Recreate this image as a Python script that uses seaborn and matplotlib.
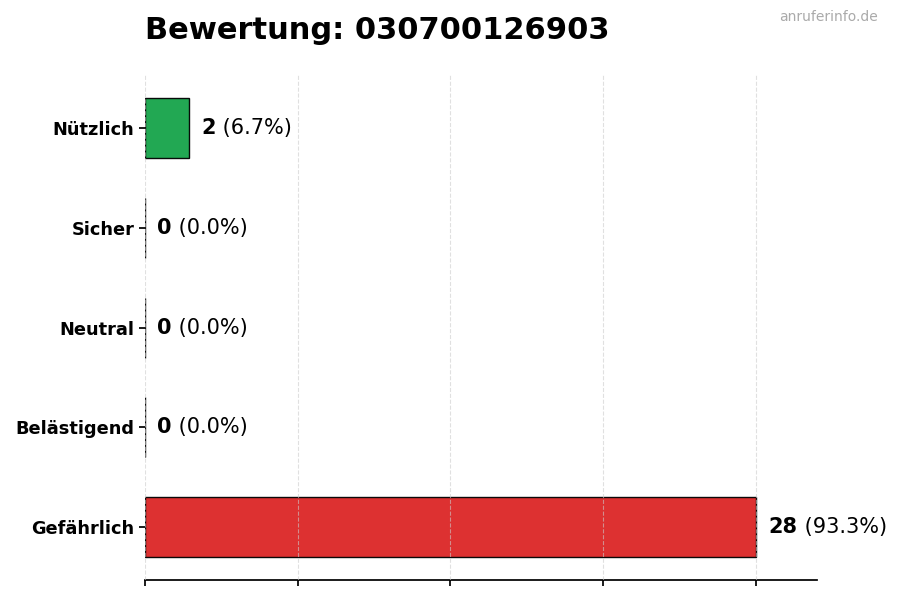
import matplotlib
matplotlib.use("Agg")
import matplotlib.pyplot as plt
import seaborn as sns
import pandas as pd

categories = ["Nützlich", "Sicher", "Neutral", "Belästigend", "Gefährlich"]
counts = [2, 0, 0, 0, 28]
colors = ["#16a34a", "#2563eb", "#9ca3af", "#f59e0b", "#dc2626"]
phone = "030700126903"

total = sum(counts)
df = pd.DataFrame({"cat": categories, "n": counts})

sns.set_theme(style="white")
plt.rcParams["font.family"] = ["DejaVu Sans"]

fig, ax = plt.subplots(figsize=(9, 6), dpi=100)
fig.subplots_adjust(left=0.161, right=0.908, top=0.875, bottom=0.033)

sns.barplot(data=df, x="n", y="cat", hue="cat", palette=colors, legend=False,
            orient="h", width=0.6, edgecolor="black", linewidth=1, alpha=0.95,
            saturation=1, ax=ax)

ax.set_xlim(0, max(counts) * 1.1)
ax.set_ylim(len(categories) - 1 + 0.53, -0.53)
ax.set_xticks([0, 7, 14, 21, 28])
ax.set_xticklabels([])
# grid sits faintly over the bars, like the original
ax.grid(axis="x", linestyle="--", color="#cccccc", linewidth=0.8, alpha=0.6)
ax.set_axisbelow(False)
ax.set_xlabel("")
ax.set_ylabel("")
for s in ["top", "right", "left"]:
    ax.spines[s].set_visible(False)
ax.spines["bottom"].set_color("black")
ax.tick_params(axis="x", bottom=True, length=4, color="black")
ax.tick_params(axis="y", left=True, length=4, color="black")
for lbl in ax.get_yticklabels():
    lbl.set_fontweight("bold")
    lbl.set_fontsize(12.8)
    lbl.set_color("black")

for i, n in enumerate(counts):
    pct = n / total * 100
    t = ax.annotate(f"{n}", xy=(n, i), xytext=(9, 0), textcoords="offset points",
                    va="center", ha="left", fontsize=15, fontweight="bold",
                    color="black")
    ax.annotate(f" ({pct:.1f}%)", xy=(1, 0.5), xycoords=t, va="center",
                ha="left", fontsize=15, color="black")

ax.set_title(f"Bewertung: {phone}", loc="left", fontsize=22, fontweight="bold",
             color="black", pad=26)
fig.text(0.975, 0.983, "anruferinfo.de", ha="right", va="top", fontsize=10,
         color="#aaaaaa")

fig.savefig("out.png", dpi=100)
